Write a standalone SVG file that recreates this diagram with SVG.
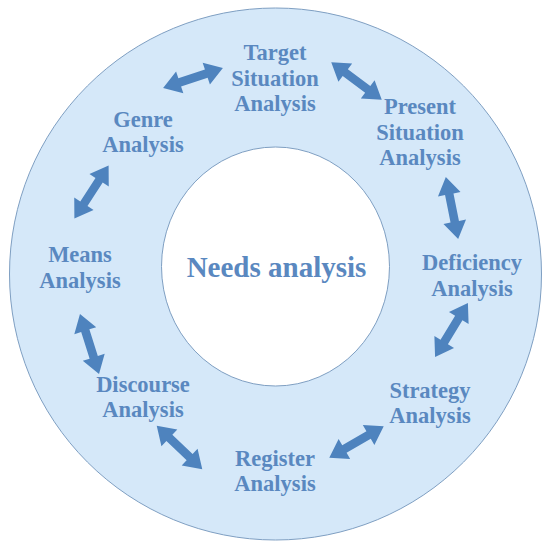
<svg xmlns="http://www.w3.org/2000/svg" xmlns:xlink="http://www.w3.org/1999/xlink" width="549" height="550" viewBox="0 0 549 550">
<style>
.lbl{font-family:"Liberation Serif","Times New Roman",serif;font-weight:bold;font-size:22.5px;fill:#5a88c0;text-anchor:middle}
.ttl{font-family:"Liberation Serif","Times New Roman",serif;font-weight:bold;font-size:29px;fill:#5a88c0;text-anchor:middle}
.arr{fill:#4e83be}
</style>
<defs>
<path id="arrow" d="M-31.5,0 L-14,-11.5 L-14,-4.3 L14,-4.3 L14,-11.5 L31.5,0 L14,11.5 L14,4.3 L-14,4.3 L-14,11.5 Z"/>
</defs>
<rect width="549" height="550" fill="#ffffff"/>
<g id="ring">
<circle cx="275.5" cy="274" r="266" fill="#d5e8f9" stroke="#7f9fc2" stroke-width="1"/>
<ellipse cx="275.5" cy="266.5" rx="114" ry="119.5" fill="#ffffff" stroke="#7f9fc2" stroke-width="1"/>
</g>
<g id="center"><text class="ttl" x="276.5" y="277">Needs analysis</text></g>
<g id="target"><text class="lbl" x="275" y="60">Target</text><text class="lbl" x="275" y="86">Situation</text><text class="lbl" x="275" y="111">Analysis</text></g>
<g id="present"><text class="lbl" x="420" y="114">Present</text><text class="lbl" x="420" y="139.5">Situation</text><text class="lbl" x="420" y="165">Analysis</text></g>
<g id="genre"><text class="lbl" x="143" y="127">Genre</text><text class="lbl" x="143" y="152">Analysis</text></g>
<g id="means"><text class="lbl" x="80" y="262">Means</text><text class="lbl" x="80" y="288">Analysis</text></g>
<g id="deficiency"><text class="lbl" x="472" y="270">Deficiency</text><text class="lbl" x="472" y="296">Analysis</text></g>
<g id="discourse"><text class="lbl" x="143" y="392">Discourse</text><text class="lbl" x="143" y="417">Analysis</text></g>
<g id="strategy"><text class="lbl" x="430" y="398">Strategy</text><text class="lbl" x="430" y="423">Analysis</text></g>
<g id="register"><text class="lbl" x="275" y="466">Register</text><text class="lbl" x="275" y="491">Analysis</text></g>
<g id="connectors" class="arr">
<use xlink:href="#arrow" transform="translate(193,78) rotate(-18.4)"/>
<use xlink:href="#arrow" transform="translate(356.5,81) rotate(36.7)"/>
<use xlink:href="#arrow" transform="translate(452,208) rotate(78.7)"/>
<use xlink:href="#arrow" transform="translate(91.5,192) rotate(122.9)"/>
<use xlink:href="#arrow" transform="translate(89.5,344) rotate(72.4)"/>
<use xlink:href="#arrow" transform="translate(179.5,447.5) rotate(43.7)"/>
<use xlink:href="#arrow" transform="translate(356.5,442) rotate(-30.2)"/>
<use xlink:href="#arrow" transform="translate(451.5,330) rotate(-58.6)"/>
</g>
</svg>
